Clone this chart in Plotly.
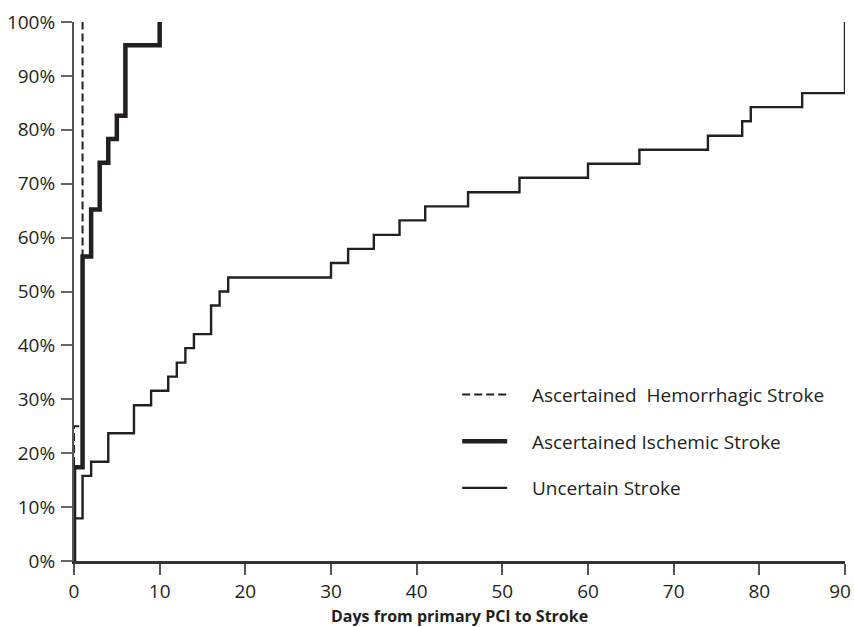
import plotly.graph_objects as go

# Hemorrhagic (ascertained): day of event and cumulative %
hem_days = [0, 0, 1]
hem_pct = [0, 25.0, 100.0]

# Ischemic (ascertained)
isc_days = [0, 0, 1, 2, 3, 4, 5, 6, 10]
isc_pct = [0, 17.4, 56.5, 65.2, 73.9, 78.3, 82.6, 95.7, 100.0]

# Uncertain stroke
unc_days = [0, 0, 1, 2, 4, 7, 9, 11, 12, 13, 14, 16, 17, 18, 30, 32, 35, 38,
            41, 46, 52, 60, 66, 74, 78, 79, 85, 90]
unc_pct = [0, 7.9, 15.8, 18.4, 23.7, 28.9, 31.6, 34.2, 36.8, 39.5, 42.1, 47.4,
           50.0, 52.6, 55.3, 57.9, 60.5, 63.2, 65.8, 68.4, 71.1, 73.7, 76.3,
           78.9, 81.6, 84.2, 86.8, 100.0]

x_ticks = [0, 10, 20, 30, 40, 50, 60, 70, 80, 90]
x_tick_text = ["0", "10", "20", "30", "40", "50", "60", "70", "80", "90\u00a0\u00a0"]
y_ticks = [0, 10, 20, 30, 40, 50, 60, 70, 80, 90, 100]
y_tick_text = [f"{v}%" for v in y_ticks]

INK = "#231f20"
FONT = "Open Sans, Noto Sans, sans-serif"
FS = 19
PAD = "\u00a0\u00a0\u00a0\u00a0"

fig = go.Figure()
fig.add_trace(go.Scatter(
    x=hem_days, y=hem_pct, mode="lines", line_shape="hv",
    line=dict(color=INK, width=2, dash="8px,4px"),
    name=PAD + "Ascertained  Hemorrhagic Stroke", legendgroup="a"))
fig.add_trace(go.Scatter(
    x=isc_days, y=isc_pct, mode="lines", line_shape="hv",
    line=dict(color=INK, width=4.5),
    name=PAD + "Ascertained Ischemic Stroke", legendgroup="b"))
fig.add_trace(go.Scatter(
    x=unc_days, y=unc_pct, mode="lines", line_shape="hv",
    line=dict(color=INK, width=2.4),
    name=PAD + "Uncertain Stroke", legendgroup="c"))

fig.update_layout(
    width=854, height=627,
    margin=dict(l=74, r=9, t=22, b=66, autoexpand=False),
    paper_bgcolor="white", plot_bgcolor="white",
    font=dict(family=FONT, size=FS, color=INK),
    showlegend=True,
    legend=dict(x=0.497, y=0.344, xanchor="left", yanchor="top",
                bgcolor="rgba(0,0,0,0)", font=dict(size=FS, color=INK),
                tracegroupgap=19, itemwidth=45),
    xaxis=dict(range=[0, 90], tickvals=x_ticks, ticktext=x_tick_text,
               showgrid=False, zeroline=False, showline=True, automargin=False,
               linecolor="#333333", linewidth=2.5,
               ticks="outside", ticklen=11, tickwidth=1.5, tickcolor="#555555",
               ticklabelstandoff=0, ticklabeloverflow="allow",
               tickfont=dict(size=FS, color=INK)),
    yaxis=dict(range=[0, 100], tickvals=y_ticks, ticktext=y_tick_text,
               showgrid=False, zeroline=False, showline=True, automargin=False,
               linecolor="#555555", linewidth=2,
               ticks="outside", ticklen=11, tickwidth=1.5, tickcolor="#666666",
               ticklabelstandoff=2, ticklabeloverflow="allow",
               tickfont=dict(size=FS, color=INK)),
    annotations=[dict(text="<b>Days from primary PCI to Stroke</b>",
                      x=0.5, xref="paper", y=0, yref="paper",
                      xanchor="center", yanchor="middle", yshift=-55,
                      showarrow=False, font=dict(size=16, color=INK))],
)

fig.write_html(
    "out.html",
    config={"displayModeBar": False},
    post_script="document.body.style.margin='0';document.body.style.overflow='hidden';",
)
